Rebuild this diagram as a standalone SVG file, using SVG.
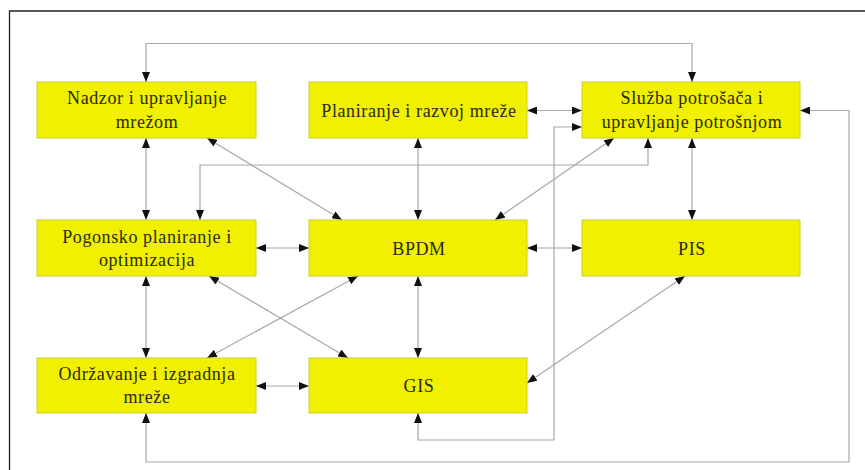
<svg xmlns="http://www.w3.org/2000/svg" width="865" height="470" viewBox="0 0 865 470">
  <style>
    .box { fill: #f0f000; stroke: #cccc33; stroke-width: 1; }
    .lbl { font-family: "Liberation Serif", "Times New Roman", serif; font-size: 18px; letter-spacing: 0.6px; fill: #2a2a10; text-anchor: middle; }
    .conn { fill: none; stroke: #a8a8a8; stroke-width: 1.2; marker-start: url(#arr); marker-end: url(#arr); }
  </style>
  <defs>
    <marker id="arr" viewBox="0 0 10 8" refX="10" refY="4" markerWidth="10" markerHeight="8" markerUnits="userSpaceOnUse" orient="auto-start-reverse">
      <path d="M0,0 L10,4 L0,8 Z" fill="#111"/>
    </marker>
  </defs>

  <rect x="0" y="0" width="865" height="470" fill="#fff"/>
  <!-- frame -->
  <path d="M9.5,470 V11 H865" fill="none" stroke="#222" stroke-width="1.3"/>

  <g id="connectors">
    <path class="conn" d="M146,82 V43.5 H692 V82"/>
    <path class="conn" d="M146,138 V220"/>
    <path class="conn" d="M207,138 L342,220"/>
    <path class="conn" d="M418,138 V220"/>
    <path class="conn" d="M527,110.5 H582"/>
    <path class="conn" d="M418,413 V440 H554 V127 H582"/>
    <path class="conn" d="M200,220 V165 H648 V138"/>
    <path class="conn" d="M614,138 L495,220"/>
    <path class="conn" d="M692,138 V220"/>
    <path class="conn" d="M800,110.5 H849 V462 H146 V413"/>
    <path class="conn" d="M256,248 H309"/>
    <path class="conn" d="M527,248 H582"/>
    <path class="conn" d="M146,276 V358"/>
    <path class="conn" d="M209,276 L348,358"/>
    <path class="conn" d="M358,276 L207,358"/>
    <path class="conn" d="M418,276 V358"/>
    <path class="conn" d="M256,386 H309"/>
    <path class="conn" d="M685,276 L527,383"/>
  </g>

  <g id="nadzor">
    <rect class="box" x="37" y="82" width="219" height="56"/>
    <text class="lbl" x="147" y="104">Nadzor i upravljanje</text>
    <text class="lbl" x="147" y="128">mrežom</text>
  </g>
  <g id="planiranje">
    <rect class="box" x="309" y="82" width="218" height="56"/>
    <text class="lbl" x="419" y="117">Planiranje i razvoj mreže</text>
  </g>
  <g id="sluzba">
    <rect class="box" x="582" y="82" width="218" height="56"/>
    <text class="lbl" x="692" y="104">Služba potrošača i</text>
    <text class="lbl" x="692" y="128">upravljanje potrošnjom</text>
  </g>
  <g id="pogonsko">
    <rect class="box" x="37" y="220" width="219" height="56"/>
    <text class="lbl" x="147" y="243">Pogonsko planiranje i</text>
    <text class="lbl" x="147" y="266">optimizacija</text>
  </g>
  <g id="bpdm">
    <rect class="box" x="309" y="220" width="218" height="56"/>
    <text class="lbl" x="419" y="255">BPDM</text>
  </g>
  <g id="pis">
    <rect class="box" x="582" y="220" width="218" height="56"/>
    <text class="lbl" x="692" y="255">PIS</text>
  </g>
  <g id="odrzavanje">
    <rect class="box" x="37" y="358" width="219" height="55"/>
    <text class="lbl" x="147" y="380">Održavanje i izgradnja</text>
    <text class="lbl" x="147" y="403">mreže</text>
  </g>
  <g id="gis">
    <rect class="box" x="309" y="358" width="218" height="55"/>
    <text class="lbl" x="419" y="392">GIS</text>
  </g>
</svg>
